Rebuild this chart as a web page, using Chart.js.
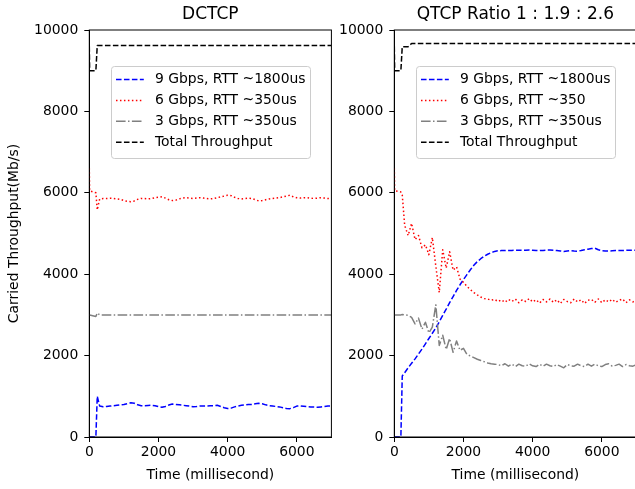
<!DOCTYPE html>
<html>
<head>
<meta charset="utf-8">
<script src="https://cdn.jsdelivr.net/npm/chart.js@4"></script>
<style>
    html, body { margin: 0; padding: 0; background: #fff; overflow: hidden; width: 635px; height: 489px; }
    #leftChart { position: absolute; left: 0; top: 0; }
    #rightChart { position: absolute; left: 336px; top: 0; }
</style>
</head>
<body>
<canvas id="leftChart" width="335" height="489"></canvas>
<canvas id="rightChart" width="304" height="489"></canvas>
<script>
// time axis (ms), shared by every series
const timeMs = [0, 10, 190, 230, 300,
    400, 500, 600, 700, 800, 900, 1000, 1100, 1200, 1300,
    1400, 1500, 1600, 1700, 1800, 1900, 2000, 2100, 2200, 2300,
    2400, 2500, 2600, 2700, 2800, 2900, 3000, 3100, 3200, 3300,
    3400, 3500, 3600, 3700, 3800, 3900, 4000, 4100, 4200, 4300,
    4400, 4500, 4600, 4700, 4800, 4900, 5000, 5100, 5200, 5300,
    5400, 5500, 5600, 5700, 5800, 5900, 6000, 6100, 6200, 6300,
    6400, 6500, 6600, 6700, 6800, 6900, 7000];

const xTicks = [0, 2000, 4000, 6000];
const yTicks = [0, 2000, 4000, 6000, 8000, 10000];

const titles = ["DCTCP", "QTCP Ratio 1 : 1.9 : 2.6"];
const leftLabels = ["9 Gbps, RTT ~1800us", "6 Gbps, RTT ~350us", "3 Gbps, RTT ~350us", "Total Throughput"];
const rightLabels = ["9 Gbps, RTT ~1800us", "6 Gbps, RTT ~350", "3 Gbps, RTT ~350us", "Total Throughput"];

// DCTCP
const blueLeft = [0, 0, 0, 1000, 760,
    745, 750, 760, 770, 780, 790, 800, 820, 840, 830,
    790, 770, 770, 775, 780, 770, 750, 730, 750, 785,
    810, 800, 790, 780, 770, 760, 745, 750, 760, 760,
    760, 765, 770, 778, 750, 720, 700, 710, 740, 760,
    780, 790, 800, 800, 815, 827, 815, 790, 770, 760,
    750, 740, 720, 700, 697, 720, 760, 765, 755, 745,
    740, 735, 730, 740, 750, 760, 765];
const redLeft = [6600, 6050, 6000, 5580, 5850,
    5860, 5860, 5865, 5860, 5850, 5840, 5810, 5790, 5780, 5800,
    5840, 5860, 5860, 5850, 5860, 5880, 5890, 5905, 5870, 5830,
    5810, 5820, 5850, 5870, 5880, 5870, 5860, 5870, 5880, 5870,
    5860, 5850, 5860, 5880, 5900, 5920, 5940, 5930, 5890, 5860,
    5850, 5860, 5870, 5860, 5830, 5800, 5810, 5830, 5850, 5860,
    5870, 5880, 5900, 5920, 5940, 5900, 5880, 5870, 5880, 5880,
    5870, 5860, 5870, 5880, 5870, 5860, 5860];
const grayLeft = [3000, 3000, 2960, 3050, 3000,
    3000, 3000, 3000, 3000, 3000, 3000, 3000, 3000, 3000, 3000,
    3000, 3000, 3000, 3000, 3000, 3000, 3000, 3000, 3000, 3000,
    3000, 3000, 3000, 3000, 3000, 3000, 3000, 3000, 3000, 3000,
    3000, 3000, 3000, 3000, 3000, 3000, 3000, 3000, 3000, 3000,
    3000, 3000, 3000, 3000, 3000, 3000, 3000, 3000, 3000, 3000,
    3000, 3000, 3000, 3000, 3000, 3000, 3000, 3000, 3000, 3000,
    3000, 3000, 3000, 3000, 3000, 3000, 3000];
const totalLeft = [9600, 9000, 9000, 9620, 9620,
    9620, 9620, 9620, 9620, 9620, 9620, 9620, 9620, 9620, 9620,
    9620, 9620, 9620, 9620, 9620, 9620, 9620, 9620, 9620, 9620,
    9620, 9620, 9620, 9620, 9620, 9620, 9620, 9620, 9620, 9620,
    9620, 9620, 9620, 9620, 9620, 9620, 9620, 9620, 9620, 9620,
    9620, 9620, 9620, 9620, 9620, 9620, 9620, 9620, 9620, 9620,
    9620, 9620, 9620, 9620, 9620, 9620, 9620, 9620, 9620, 9620,
    9620, 9620, 9620, 9620, 9620, 9620, 9620];

// QTCP
const blueRight = [0, 0, 0, 1500, 1580,
    1700, 1810, 1920, 2040, 2160, 2290, 2420, 2550, 2680, 2830,
    2990, 3140, 3300, 3450, 3600, 3740, 3870, 3990, 4110, 4220,
    4310, 4380, 4440, 4490, 4530, 4560, 4575, 4580, 4580, 4585,
    4585, 4590, 4590, 4585, 4590, 4595, 4590, 4585, 4580, 4585,
    4590, 4595, 4590, 4580, 4570, 4560, 4570, 4580, 4570, 4565,
    4580, 4600, 4615, 4630, 4640, 4600, 4575, 4570, 4570, 4575,
    4580, 4580, 4585, 4585, 4590, 4590, 4590];
const redRight = [6600, 6050, 6020, 5950, 5200,
    4950, 5250, 4850, 4950, 4650, 4720, 4480, 4900, 4200, 3550,
    4600, 4150, 4550, 4100, 4180, 3880, 3800, 3700, 3620, 3550,
    3490, 3440, 3400, 3390, 3360, 3380, 3330, 3370, 3310, 3380,
    3330, 3390, 3300, 3370, 3330, 3400, 3320, 3370, 3290, 3380,
    3320, 3390, 3310, 3370, 3280, 3380, 3330, 3300, 3390, 3320,
    3370, 3280, 3360, 3380, 3310, 3390, 3300, 3370, 3320, 3380,
    3310, 3360, 3390, 3300, 3370, 3320, 3360];
const grayRight = [3000, 3000, 3000, 3010, 3000,
    2990, 2940, 2780, 2920, 2650, 2820, 2560, 2700, 3250, 2250,
    2500, 2150, 2420, 2080, 2360, 2130, 2180, 2030, 1990, 1950,
    1910, 1880, 1850, 1820, 1800, 1790, 1780, 1750, 1800, 1740,
    1790, 1730, 1790, 1750, 1740, 1800, 1750, 1730, 1790, 1740,
    1790, 1750, 1730, 1780, 1740, 1700, 1780, 1750, 1740, 1790,
    1750, 1730, 1790, 1740, 1790, 1750, 1730, 1780, 1800, 1740,
    1760, 1790, 1730, 1780, 1750, 1740, 1780];
const totalRight = [9600, 9000, 9000, 9590, 9590,
    9590, 9670, 9670, 9670, 9670, 9670, 9670, 9670, 9670, 9670,
    9670, 9670, 9670, 9670, 9670, 9670, 9670, 9670, 9670, 9670,
    9670, 9670, 9670, 9670, 9670, 9670, 9670, 9670, 9670, 9670,
    9670, 9670, 9670, 9670, 9670, 9670, 9670, 9670, 9670, 9670,
    9670, 9670, 9670, 9670, 9670, 9670, 9670, 9670, 9670, 9670,
    9670, 9670, 9670, 9670, 9670, 9670, 9670, 9670, 9670, 9670,
    9670, 9670, 9670, 9670, 9670, 9670, 9670];

const colors = ["#0000ff", "#ff0000", "#808080", "#000000"];
const dashes = [[5.55, 2.4], [1.5, 2.475], [9.6, 2.4, 1.5, 2.4], [5.55, 2.4]];

const FONT = '"DejaVu Sans", sans-serif';
Chart.defaults.font.family = FONT;
Chart.defaults.color = "#000";

function makeDatasets(seriesList, labels) {
    return seriesList.map((vals, i) => ({
        label: labels[i],
        data: timeMs.map((t, j) => ({x: t, y: vals[j]})),
        borderColor: colors[i],
        borderDash: dashes[i],
        borderWidth: 1.5,
        borderJoinStyle: "round",
        pointRadius: 0,
        fill: false,
        order: 3 - i
    }));
}

// matplotlib style frame + legend box
function boxPlugin(labels) {
    return {
        id: "boxLegend",
        afterDatasetsDraw(chart) {
            const {ctx, chartArea} = chart;
            ctx.save();
            ctx.strokeStyle = "#000";
            ctx.lineWidth = 1;
            ctx.strokeRect(chartArea.left, chartArea.top, chartArea.right - chartArea.left, chartArea.bottom - chartArea.top);

            const x = Math.round(chartArea.left + 21.5) + 0.5;
            const y = Math.round(chartArea.top + 36) + 0.5;
            ctx.beginPath();
            ctx.roundRect(x, y, 199, 92, 3);
            ctx.fillStyle = "rgba(255,255,255,0.8)";
            ctx.fill();
            ctx.strokeStyle = "#cccccc";
            ctx.stroke();

            labels.forEach((label, i) => {
                const ry = y + 13 + i * 20.9;
                ctx.beginPath();
                ctx.setLineDash(dashes[i]);
                ctx.strokeStyle = colors[i];
                ctx.lineWidth = 1.5;
                ctx.moveTo(x + 4.5, ry);
                ctx.lineTo(x + 32.3, ry);
                ctx.stroke();
                ctx.setLineDash([]);
                ctx.fillStyle = "#000";
                ctx.font = "13.9px " + FONT;
                ctx.textBaseline = "middle";
                ctx.fillText(label, x + 43.5, ry);
            });
            ctx.restore();
        }
    };
}

function makeOptions(title, yWidth, showYTitle) {
    return {
        responsive: false,
        animation: false,
        events: [],
        layout: {padding: {left: 0, right: 3.6, top: 0, bottom: 0}},
        plugins: {
            legend: {display: false},
            tooltip: {enabled: false},
            title: {
                display: true, text: title, fullSize: false, color: "#000",
                font: {size: 17, weight: "normal"},
                padding: {top: 4, bottom: 5.6}
            }
        },
        scales: {
            x: {
                type: "linear", min: 0, max: 7000,
                afterBuildTicks: s => { s.ticks = xTicks.map(v => ({value: v})); },
                afterFit: s => { s.height = 52; },
                ticks: {color: "#000", font: {size: 13.9}, padding: 2, maxRotation: 0, callback: v => String(v)},
                grid: {drawOnChartArea: false, drawTicks: true, tickLength: 5, color: "#000", lineWidth: 1},
                border: {display: true, color: "#000", width: 1},
                title: {display: true, text: "Time (millisecond)", color: "#000", font: {size: 13.9}, padding: {top: 0, bottom: 5.7}}
            },
            y: {
                type: "linear", min: 0, max: 10000,
                afterBuildTicks: s => { s.ticks = yTicks.map(v => ({value: v})); },
                afterFit: s => { s.width = yWidth; },
                ticks: {color: "#000", font: {size: 13.9}, padding: 6, callback: v => String(v)},
                grid: {drawOnChartArea: false, drawTicks: true, tickLength: 5, color: "#000", lineWidth: 1},
                border: {display: true, color: "#000", width: 1},
                title: {display: showYTitle, text: "Carried Throughput(Mb/s)", color: "#000", font: {size: 13.9}, padding: {top: 5.7, bottom: 0}}
            }
        }
    };
}

new Chart(document.getElementById("leftChart"), {
    type: "line",
    data: {datasets: makeDatasets([blueLeft, redLeft, grayLeft, totalLeft], leftLabels)},
    options: makeOptions(titles[0], 89.3, true),
    plugins: [boxPlugin(leftLabels)]
});

new Chart(document.getElementById("rightChart"), {
    type: "line",
    data: {datasets: makeDatasets([blueRight, redRight, grayRight, totalRight], rightLabels)},
    options: makeOptions(titles[1], 58.3, false),
    plugins: [boxPlugin(rightLabels)]
});
</script>
</body>
</html>
